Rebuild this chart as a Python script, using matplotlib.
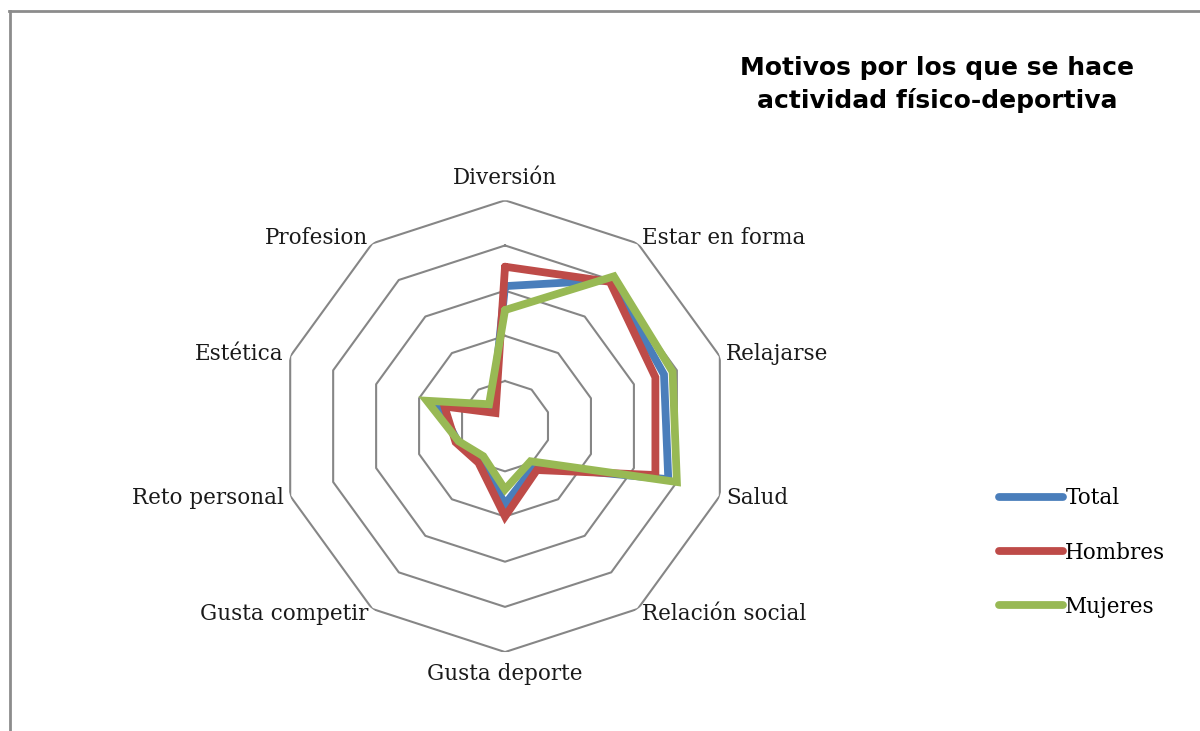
import numpy as np
import matplotlib
matplotlib.use('Agg')
import matplotlib.pyplot as plt
from matplotlib.lines import Line2D

# --- DATOS ---
categorias = ['Diversión', 'Estar en forma', 'Relajarse', 'Salud', 'Relación social',
              'Gusta deporte', 'Gusta competir', 'Reto personal', 'Estética', 'Profesion']
total = [31, 40, 37, 38, 11, 17.3, 9, 11, 15.5, 4.8]
hombres = [35.3, 39.5, 35, 35, 12, 20, 10, 11.5, 14.1, 3.6]
mujeres = [25.7, 41, 39, 40, 9.6, 14, 8.2, 10.8, 18.2, 6]
anillos = [10, 20, 30, 40, 50]

series = [('Total', total, '#4A7EBB'),
          ('Hombres', hombres, '#BE4B48'),
          ('Mujeres', mujeres, '#98B954')]

fuente = 'DejaVu Serif'

fig = plt.figure(figsize=(12, 7.31), dpi=100)
ax = fig.add_axes([0.2325, 0.108, 0.3767, 0.618], polar=True)
ax.set_theta_offset(np.pi / 2)
ax.set_theta_direction(-1)
ax.set_ylim(0, 50)
ax.grid(False)
ax.spines['polar'].set_visible(False)
ax.set_xticks([])
ax.set_yticks([])
ax.patch.set_alpha(0)

n = len(categorias)
angulos = np.linspace(0, 2 * np.pi, n, endpoint=False)
ang_cerrado = np.append(angulos, angulos[0])

# anillos decagonales
for r in anillos:
    ax.plot(ang_cerrado, [r] * (n + 1), color='#868686', lw=1.5, zorder=1)

# series
for nombre, valores, color in series:
    v = np.append(valores, valores[0])
    ax.plot(ang_cerrado, v, color=color, lw=5.6, label=nombre,
            solid_capstyle='round', solid_joinstyle='miter', zorder=3)

# etiquetas de categorias
for ang, cat in zip(angulos, categorias):
    s = np.sin(ang)
    c = np.cos(ang)
    if abs(s) < 0.01:
        ha = 'center'
        va = 'bottom' if c > 0 else 'top'
        r = 52.5
    else:
        ha = 'left' if s > 0 else 'right'
        va = 'center'
        r = 51.5
    ax.text(ang, r, cat, ha=ha, va=va, fontsize=15.5, family=fuente, color='#1a1a1a')

# leyenda
leg = fig.legend(loc='upper left', bbox_to_anchor=(0.825, 0.345), frameon=False,
                 prop={'family': fuente, 'size': 15.5}, handlelength=3.0,
                 handletextpad=0.1, labelspacing=1.5, borderaxespad=0)

# titulo
fig.text(0.781, 0.884, 'Motivos por los que se hace\nactividad físico-deportiva',
         ha='center', va='center', fontsize=18, fontweight='bold',
         family='DejaVu Sans', linespacing=1.4)

# marco
fig.add_artist(Line2D([0.0075, 1.0], [0.985, 0.985], color='#8c8c8c', lw=2))
fig.add_artist(Line2D([0.0085, 0.0085], [0.0, 0.985], color='#8c8c8c', lw=2))

fig.savefig('out.png', dpi=100, facecolor='white')
